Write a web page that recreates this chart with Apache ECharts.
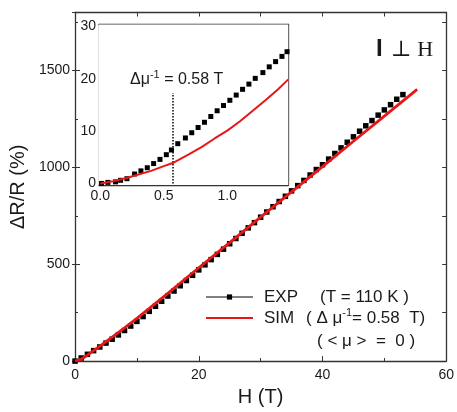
<!DOCTYPE html>
<html>
<head>
<meta charset="utf-8">
<script src="https://cdn.jsdelivr.net/npm/echarts@6/dist/echarts.min.js"></script>
<style>
  html, body { margin: 0; padding: 0; background: #fff; }
  #chart { width: 457px; height: 412px; }
</style>
</head>
<body>
<div id="chart"></div>
<script>
// Magnetoresistance ΔR/R vs field H, measured (EXP) and simulated (SIM)
const fieldExp = [0, 1, 2, 3, 4, 5, 6, 7, 8, 9, 10, 11, 12, 13, 14, 15, 16, 17, 18, 19,
  20, 21, 22, 23, 24, 25, 26, 27, 28, 29, 30, 31, 32, 33, 34, 35, 36, 37, 38, 39,
  40, 41, 42, 43, 44, 45, 46, 47, 48, 49, 50, 51, 52, 53];
const drExp = [0, 16, 35, 54, 73, 93, 113, 135, 158, 181, 205, 230, 257, 283, 309, 336, 362, 389, 416, 443,
  471, 497, 524, 551, 578, 606, 633, 660, 688, 715, 743, 770, 797, 824, 851, 879, 906, 933, 961, 989,
  1014, 1043, 1072, 1101, 1130, 1158, 1187, 1215, 1242, 1270, 1297, 1324, 1352, 1376];

const fieldSim = [0, 1, 1.5, 2, 3, 4, 5, 6, 8, 10, 12, 15, 20, 25, 30, 35, 40, 45, 50, 55.3];
const drSim = [0, 10, 20, 31, 54, 77, 100, 124, 172, 221, 272, 350, 482, 612, 743, 874, 1004, 1135, 1265, 1403];

// Low-field detail (inset)
const fieldExpLow = [0.01, 0.06, 0.12, 0.16, 0.21, 0.27, 0.32, 0.37, 0.42, 0.47, 0.52, 0.56, 0.61, 0.67, 0.72,
  0.77, 0.82, 0.87, 0.92, 0.97, 1.02, 1.07, 1.12, 1.17, 1.22, 1.28, 1.33, 1.38, 1.43, 1.47];
const drExpLow = [0.0, 0.2, 0.3, 0.6, 0.9, 1.8, 2.4, 3.0, 3.8, 4.6, 5.5, 6.4, 7.6, 8.7, 9.7,
  10.7, 11.7, 12.8, 13.9, 14.9, 15.9, 16.9, 18.0, 19.0, 20.1, 21.2, 22.3, 23.3, 24.3, 25.2];

const fieldSimLow = [0, 0.1, 0.2, 0.3, 0.4, 0.5, 0.57, 0.7, 0.8, 0.9, 1.0, 1.1, 1.2, 1.3, 1.4, 1.48];
const drSimLow = [0, 0.4, 1.0, 1.7, 2.4, 3.3, 3.9, 5.6, 7.0, 8.6, 10.1, 11.9, 13.9, 15.9, 18.0, 19.9];

const invMobility = 0.57;      // Δμ⁻¹ marker position (T)
const invMobilityTop = 17.3;   // top of the dotted marker (%)

// Tick labels
const mainXTicks = [0, 20, 40, 60];
const mainYTicks = [0, 500, 1000, 1500];
const insetXTicks = [0, 0.5, 1.0];
const insetYTicks = [0, 10, 20, 30];
const insetXMinor = [0.25, 0.75, 1.25];
const insetXTop = [0.25, 0.5, 0.75, 1.0, 1.25];
const insetYMinor = [5, 15, 25];
const insetYRight = [0, 5, 10, 15, 20, 25, 30];

const zip = (xs, ys) => xs.map((x, i) => [x, ys[i]]);

const FONT = '"Liberation Sans", Arial, sans-serif';
const FRAME = '#333';
const TEXT = '#1a1a1a';
const RED = '#e81717';

const frameLine = { show: true, onZero: false, lineStyle: { color: FRAME, width: 1.3 } };
const noLine = { show: false };
const tick = (len, inside = true) => ({ show: true, inside: inside, length: len, lineStyle: { color: FRAME, width: 1 } });
const noLabel = { show: false };

function axis(o) {
  return Object.assign({ type: 'value', splitLine: { show: false }, axisLabel: noLabel, axisLine: noLine }, o);
}

const chart = echarts.init(document.getElementById('chart'), null, { renderer: 'canvas' });

chart.setOption({
  animation: false,
  backgroundColor: '#fff',
  textStyle: { fontFamily: FONT },
  grid: [
    { left: 75, right: 8, top: 12.5, bottom: 44 },
    { left: 99, right: 168.7, top: 24.5, bottom: 227, show: true, backgroundColor: '#fff', borderWidth: 0, z: 5 }
  ],
  xAxis: [
    axis({ gridIndex: 0, position: 'bottom', min: 0, max: 60, interval: 20, axisLine: frameLine, axisTick: tick(5),
      axisLabel: { show: true, fontSize: 14, margin: 7, color: TEXT, fontFamily: FONT,
        formatter: v => mainXTicks.includes(v) ? String(v) : '' },
      name: 'H (T)', nameLocation: 'middle', nameGap: 19,
      nameTextStyle: { fontSize: 20, color: TEXT, fontFamily: FONT } }),
    axis({ gridIndex: 0, position: 'bottom', min: 0, max: 60, interval: 10, axisTick: tick(3) }),
    axis({ gridIndex: 0, position: 'top', min: 0, max: 60, interval: 10, axisLine: frameLine, axisTick: tick(4) }),
    axis({ gridIndex: 1, position: 'bottom', min: -0.01, max: 1.48, axisLine: frameLine,
      axisTick: Object.assign(tick(4), { customValues: insetXTicks }),
      axisLabel: { show: true, fontSize: 14, margin: 4, color: TEXT, fontFamily: FONT,
        customValues: insetXTicks, formatter: v => v.toFixed(1) } }),
    axis({ gridIndex: 1, position: 'bottom', min: -0.01, max: 1.48,
      axisTick: Object.assign(tick(3), { customValues: insetXMinor }) }),
    axis({ gridIndex: 1, position: 'top', min: -0.01, max: 1.48, axisLine: frameLine,
      axisTick: Object.assign(tick(3), { customValues: insetXTop }) })
  ],
  yAxis: [
    axis({ gridIndex: 0, position: 'left', min: 0, max: 1800, interval: 500, axisLine: frameLine, axisTick: tick(5),
      axisLabel: { show: true, fontSize: 14, margin: 5, color: TEXT, fontFamily: FONT, showMaxLabel: false,
        formatter: v => mainYTicks.includes(v) ? String(v) : '' },
      name: 'ΔR/R (%)', nameLocation: 'middle', nameGap: 38,
      nameTextStyle: { fontSize: 20, color: TEXT, fontFamily: FONT } }),
    axis({ gridIndex: 0, position: 'left', min: 0, max: 1800, interval: 250, axisTick: tick(3) }),
    axis({ gridIndex: 0, position: 'left', min: 0, max: 1800, interval: 500, axisTick: tick(3, false) }),
    axis({ gridIndex: 0, position: 'right', min: 0, max: 1800, interval: 250, axisLine: frameLine, axisTick: tick(4) }),
    axis({ gridIndex: 1, position: 'left', min: -0.3, max: 30.4, axisLine: frameLine,
      axisTick: Object.assign(tick(4), { customValues: insetYTicks }),
      axisLabel: { show: true, fontSize: 14, margin: 3, color: TEXT, fontFamily: FONT,
        customValues: insetYTicks, formatter: v => String(v) } }),
    axis({ gridIndex: 1, position: 'left', min: -0.3, max: 30.4,
      axisTick: Object.assign(tick(3), { customValues: insetYMinor }) }),
    axis({ gridIndex: 1, position: 'right', min: -0.3, max: 30.4, axisLine: frameLine,
      axisTick: Object.assign(tick(3), { customValues: insetYRight }) })
  ],
  legend: {
    left: 205, top: 287, orient: 'vertical', padding: 0, itemGap: 0.5,
    itemWidth: 47, itemHeight: 6.5, selectedMode: false,
    textStyle: {
      fontSize: 17, color: TEXT, fontFamily: FONT, lineHeight: 20, padding: [0, 0, 0, 6],
      rich: {
        nE: { fontSize: 17, width: 56, lineHeight: 20, fontFamily: FONT, color: TEXT },
        nS: { fontSize: 17, width: 42, lineHeight: 20, fontFamily: FONT, color: TEXT },
        p: { fontSize: 17, lineHeight: 20, fontFamily: FONT, color: TEXT },
        sup: { fontSize: 11, lineHeight: 10, padding: [0, 0, 10, 0], fontFamily: FONT, color: TEXT }
      }
    },
    formatter: name => name === 'EXP'
      ? '{nE|EXP}{p|(T = 110 K )}'
      : '{nS|SIM}{p|( Δ μ}{sup|-1}{p|= 0.58  T)}',
    data: [
      { name: 'EXP', lineStyle: { width: 1, color: '#000', opacity: 1 } },
      { name: 'SIM', itemStyle: { opacity: 0 } }
    ]
  },
  series: [
    {
      name: 'EXP', type: 'line', xAxisIndex: 0, yAxisIndex: 0,
      data: zip(fieldExp, drExp),
      symbol: 'rect', symbolSize: 5.5, showSymbol: true,
      itemStyle: { color: '#000' }, lineStyle: { color: '#000', opacity: 0 },
      silent: true, z: 3
    },
    {
      name: 'SIM', type: 'line', xAxisIndex: 0, yAxisIndex: 0,
      data: zip(fieldSim, drSim),
      symbol: 'none', itemStyle: { color: RED }, lineStyle: { color: RED, width: 2.8 },
      silent: true, z: 4
    },
    {
      name: 'EXP (low field)', type: 'line', xAxisIndex: 3, yAxisIndex: 4,
      data: zip(fieldExpLow, drExpLow),
      symbol: 'rect', symbolSize: 5, showSymbol: true,
      itemStyle: { color: '#000' }, lineStyle: { color: '#000', opacity: 0 },
      silent: true, z: 6,
      markLine: {
        silent: true, symbol: 'none', animation: false,
        lineStyle: { type: 'dotted', color: '#000', width: 1.5 },
        label: {
          show: true, position: 'end', distance: 3, padding: [0, 0, 0, 8],
          formatter: '{a|Δμ}{s|-1}{a| = 0.58 T}',
          rich: {
            a: { fontSize: 16, lineHeight: 20, fontFamily: FONT, color: TEXT },
            s: { fontSize: 11, lineHeight: 10, padding: [0, 0, 10, 0], fontFamily: FONT, color: TEXT }
          }
        },
        data: [[{ coord: [invMobility, 0] }, { coord: [invMobility, invMobilityTop] }]]
      }
    },
    {
      name: 'SIM (low field)', type: 'line', xAxisIndex: 3, yAxisIndex: 4,
      data: zip(fieldSimLow, drSimLow),
      symbol: 'none', lineStyle: { color: RED, width: 2 },
      silent: true, z: 7
    }
  ],
  graphic: [
    {
      type: 'text', left: 317, top: 333, silent: true,
      style: { text: '( < μ >  =  0 )', fontSize: 17, fontFamily: FONT, fill: TEXT }
    },
    {
      type: 'text', left: 376, top: 37, silent: true,
      style: { text: 'I', fontSize: 24, fontWeight: 'bold', fontFamily: FONT, fill: TEXT }
    },
    {
      type: 'text', left: 391, top: 39, silent: true,
      style: { text: '⊥ H', fontSize: 22, fontFamily: '"Liberation Serif", "DejaVu Serif", serif', fill: TEXT }
    }
  ]
});
</script>
</body>
</html>
